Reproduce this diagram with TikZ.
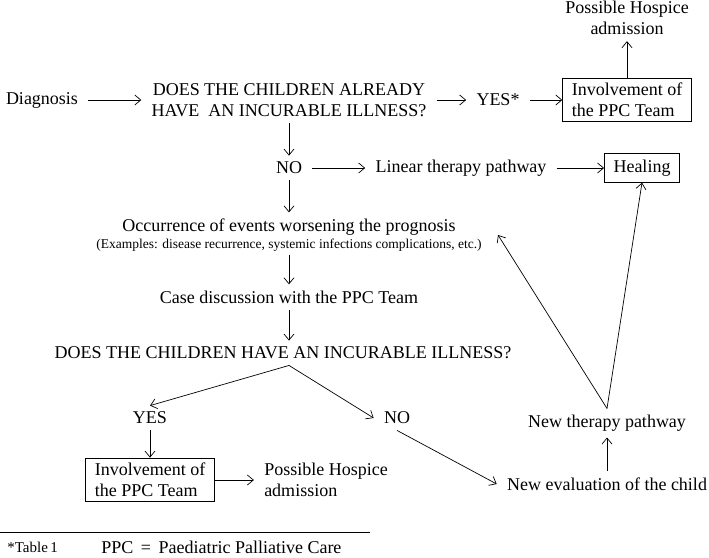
\documentclass[tikz,border=0pt]{standalone}
\usepackage{fontspec}
\setmainfont{Liberation Serif}
\usepackage{tikz}
\usetikzlibrary{positioning,arrows.meta}

\tikzset{
  txt/.style={align=center, inner xsep=10pt, inner ysep=6pt, font=\fontsize{18}{21}\selectfont},
  box/.style={txt, draw, line width=0.9pt, align=left, inner xsep=9pt, inner ysep=5pt},
  small/.style={inner sep=3pt, font=\fontsize{13.5}{15}\selectfont},
}

\begin{document}
\begin{tikzpicture}[x=1pt, y=1pt, node distance = 2cm, on grid, line width=0.7pt]
  \useasboundingbox (0,0) rectangle (709,-557);

  \node [txt] (diag) at (42,-100) {Diagnosis};
  \node [txt] [right=247pt of diag] (q1) {DOES THE CHILDREN ALREADY\\HAVE\ \ AN INCURABLE ILLNESS?};
  \node [txt] [right=209pt of q1] (yes1) {YES*};
  \node [box] [right=129pt of yes1] (ppc1) {Involvement of\\the PPC Team};
  \node [txt] [above=82pt of ppc1] (hosp1) {Possible Hospice\\admission};
  \node [txt] [below=68pt of q1] (no1) {NO};
  \node [txt] [right=172pt of no1] (linear) {Linear therapy pathway};
  \node [box, inner ysep=6pt] [right=181pt of linear] (heal) {Healing};
  \node [txt] [below=59pt of no1] (occ) {Occurrence of events worsening the prognosis};
  \node [small] [below=18pt of occ] (ex) {(Examples: disease recurrence, systemic infections complications, etc.)};
  \node [txt] [below=52pt of ex] (case) {Case discussion with the PPC Team};
  \node [txt] [below=56pt of case, xshift=-6pt] (q2) {DOES THE CHILDREN HAVE AN INCURABLE ILLNESS?};
  \node [txt] [below left=65pt and 133pt of q2] (yes2) {YES};
  \node [box] [below=62pt of yes2] (ppc2) {Involvement of\\the PPC Team};
  \node [txt, align=left] [right=176pt of ppc2] (hosp2) {Possible Hospice\\admission};
  \node [txt] [right=247pt of yes2] (no2) {NO};
  \node [txt] [below right=66pt and 210pt of no2] (neweval) {New evaluation of the child};
  \node [txt] [above=61pt of neweval] (newther) {New therapy pathway};

  \coordinate (split) at (q2.south -| case.south);
  \coordinate (back) at (498,-235);

  \path[-{Straight Barb[length=6pt, width=10pt, line width=0.7pt]}]
  (diag) edge (q1)
  (q1) edge (yes1)
  (yes1) edge (ppc1)
  (ppc1) edge (hosp1)
  (q1) edge (no1)
  (no1) edge (linear)
  (linear) edge (heal)
  (no1) edge (occ)
  (ex) edge (case)
  (case.south) edge (case.south |- q2.north)
  (split) edge (yes2.north)
  (split) edge (no2.west)
  (yes2) edge (ppc2)
  (ppc2) edge (hosp2)
  (no2.south) edge (neweval.west)
  (neweval) edge (newther)
  (newther.north) edge (heal.south)
  (newther.north) edge (back);

  % footnote
  \draw (0,-532) -- (370,-532);
  \node [txt, inner sep=1pt, font=\fontsize{15}{18}\selectfont, anchor=west] (tab) at (6,-547) {*Table\,1};
  \node [txt, inner sep=1pt, anchor=west] (ppcdef) at (100,-547) {PPC \,=\, Paediatric Palliative Care};
\end{tikzpicture}
\end{document}
